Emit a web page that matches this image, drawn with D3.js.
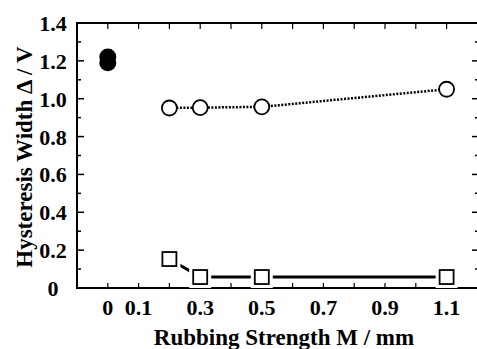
<!DOCTYPE html>
<html lang="en">
<head>
    <meta charset="UTF-8">
    <title>Hysteresis Width vs Rubbing Strength</title>
    <script src="https://d3js.org/d3.v7.min.js"></script>
    <style>
        body { margin: 0; background: #fff; }
        svg { display: block; }
    </style>
</head>
<body>
    <svg id="chart" width="477" height="349"></svg>
    <script>
        // data
        const unrubbedX = [0, 0];
        const unrubbedY = [1.19, 1.22];
        const circleX = [0.2, 0.3, 0.5, 1.1];
        const circleY = [0.951, 0.953, 0.957, 1.05];
        const squareX = [0.2, 0.3, 0.5, 1.1];
        const squareY = [0.153, 0.058, 0.058, 0.058];
        const xTickLabels = [0, 0.1, 0.3, 0.5, 0.7, 0.9, 1.1];
        const yTickLabels = [0, 0.2, 0.4, 0.6, 0.8, 1.0, 1.2, 1.4];

        const font = "Liberation Serif";
        const svg = d3.select("#chart");
        const plotL = 77, plotR = 479, plotT = 23, plotB = 288;

        const x = d3.scaleLinear().domain([-0.1, 1.2]).range([plotL, plotL + 1.3 * 308]);
        const y = d3.scaleLinear().domain([0, 1.4]).range([plotB, plotT]);

        // frame
        svg.append("rect")
            .attr("x", plotL).attr("y", plotT)
            .attr("width", plotR - plotL).attr("height", plotB - plotT)
            .attr("fill", "none").attr("stroke", "#000").attr("stroke-width", 2);

        // x ticks every 0.1 (inward on top and bottom)
        const xt = d3.range(0, 12).map(i => i / 10);
        svg.append("g").selectAll("line").data(xt).enter().append("line")
            .attr("x1", d => x(d)).attr("x2", d => x(d))
            .attr("y1", plotB).attr("y2", plotB - 5)
            .attr("stroke", "#000").attr("stroke-width", 1.2);
        svg.append("g").selectAll("line").data(xt).enter().append("line")
            .attr("x1", d => x(d)).attr("x2", d => x(d))
            .attr("y1", plotT).attr("y2", plotT + 6)
            .attr("stroke", "#000").attr("stroke-width", 1.2);

        // y ticks every 0.1, major at 0.2
        const yt = d3.range(1, 14).map(i => i / 10);
        const isMajor = d => Math.round(d * 10) % 2 === 0;
        svg.append("g").selectAll("line").data(yt).enter().append("line")
            .attr("x1", plotL).attr("x2", d => plotL + (isMajor(d) ? 7 : 4))
            .attr("y1", d => y(d)).attr("y2", d => y(d))
            .attr("stroke", "#000").attr("stroke-width", 1.5);
        svg.append("g").selectAll("line").data(yt).enter().append("line")
            .attr("x1", plotR).attr("x2", d => plotR - (isMajor(d) ? 7 : 4))
            .attr("y1", d => y(d)).attr("y2", d => y(d))
            .attr("stroke", "#000").attr("stroke-width", 1.5);

        // tick labels
        svg.append("g").selectAll("text").data(yTickLabels).enter().append("text")
            .attr("x", 53).attr("y", d => y(d) + 8)
            .attr("text-anchor", "middle")
            .attr("font-family", font).attr("font-weight", "bold").attr("font-size", 22)
            .text(d => d === 0 ? "0" : d.toFixed(1));
        svg.append("g").selectAll("text").data(xTickLabels).enter().append("text")
            .attr("x", d => x(d)).attr("y", 315)
            .attr("text-anchor", "middle")
            .attr("font-family", font).attr("font-weight", "bold").attr("font-size", 22)
            .text(d => d === 0 ? "0" : d.toFixed(1));

        // axis titles
        svg.append("text")
            .attr("x", 284).attr("y", 345)
            .attr("text-anchor", "middle")
            .attr("font-family", font).attr("font-weight", "bold").attr("font-size", 23)
            .text("Rubbing Strength M / mm");
        svg.append("text")
            .attr("transform", "translate(32,157) rotate(-90)")
            .attr("text-anchor", "middle")
            .attr("font-family", font).attr("font-weight", "bold").attr("font-size", 23)
            .text("Hysteresis Width \u0394 / V");

        // dotted line through circles
        const circles = circleX.map((d, i) => ({ x: d, y: circleY[i] }));
        const squares = squareX.map((d, i) => ({ x: d, y: squareY[i] }));
        const line = d3.line().x(d => x(d.x)).y(d => y(d.y));

        svg.append("path").datum(circles)
            .attr("d", line)
            .attr("fill", "none").attr("stroke", "#000")
            .attr("stroke-width", 2.5).attr("stroke-dasharray", "2,1.5");

        // solid line through squares, with small gaps at markers
        svg.append("path").datum(squares)
            .attr("d", line)
            .attr("fill", "none").attr("stroke", "#000")
            .attr("stroke-width", 3);

        // markers
        svg.append("g").selectAll("rect").data(squares).enter().append("rect")
            .attr("x", d => x(d.x) - 11).attr("y", d => y(d.y) - 11)
            .attr("width", 22).attr("height", 22)
            .attr("fill", "#fff");
        svg.append("g").selectAll("rect").data(squares).enter().append("rect")
            .attr("x", d => x(d.x) - 7).attr("y", d => y(d.y) - 7)
            .attr("width", 14).attr("height", 14)
            .attr("fill", "#fff").attr("stroke", "#000").attr("stroke-width", 1.8);

        svg.append("g").selectAll("circle").data(circles).enter().append("circle")
            .attr("cx", d => x(d.x)).attr("cy", d => y(d.y)).attr("r", 7.5)
            .attr("fill", "#fff").attr("stroke", "#000").attr("stroke-width", 1.8);

        svg.append("g").selectAll("circle").data(unrubbedX).enter().append("circle")
            .attr("cx", d => x(d)).attr("cy", (d, i) => y(unrubbedY[i])).attr("r", 8.5)
            .attr("fill", "#000");
    </script>
</body>
</html>
